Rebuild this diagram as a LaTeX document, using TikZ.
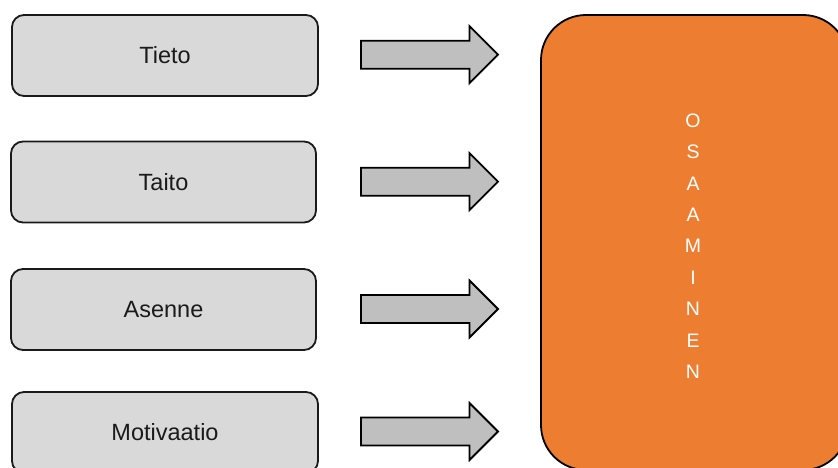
\documentclass[tikz,border=0pt]{standalone}
\usepackage{fontspec}
\setmainfont{Liberation Sans}
\definecolor{boxgray}{HTML}{D9D9D9}
\definecolor{arrowgray}{HTML}{BFBFBF}
\definecolor{osaorange}{HTML}{ED7D31}
\definecolor{inkdark}{HTML}{1A1A1A}
\begin{document}
\begin{tikzpicture}[x=1pt,y=-1pt,
  itembox/.style={draw=inkdark, line width=1.8pt, fill=boxgray, rounded corners=12pt,
    minimum height=81pt, inner sep=0pt, text=inkdark,
    font=\fontsize{23.5}{28}\selectfont},
  blockarrow/.pic={
    \draw[draw=black, line width=1.8pt, fill=arrowgray, line join=miter]
      (0,-14) -- (108.5,-14) -- (108.5,-28.5) -- (137,0) -- (108.5,28.5)
      -- (108.5,14) -- (0,14) -- cycle;
  }]
  \useasboundingbox (0,0) rectangle (838,468);
  \begin{scope}
    \clip (0,0) rectangle (838,468);

    % inputs on the left
    \node[itembox, minimum width=306pt] (tieto) at (165,55.5) {Tieto};
    \node[itembox, minimum width=305pt] (taito) at (163.5,182) {Taito};
    \node[itembox, minimum width=305pt] (asenne) at (163.5,309.5) {Asenne};
    \node[itembox, minimum width=306pt] (motivaatio) at (165,432.5) {Motivaatio};

    % block arrows
    \pic at (361,54.7) {blockarrow};
    \pic at (361,181.7) {blockarrow};
    \pic at (361,309) {blockarrow};
    \pic at (361,431.5) {blockarrow};

    % result box on the right
    \draw[draw=black, line width=1.8pt, fill=osaorange, rounded corners=45pt]
      (541,15) rectangle (848,470);
    \node[text=white, align=center, inner sep=0pt,
      font=\fontsize{19.5}{31.4}\selectfont] (osaaminen) at (693,246)
      {O\\S\\A\\A\\M\\I\\N\\E\\N};
  \end{scope}
\end{tikzpicture}
\end{document}
